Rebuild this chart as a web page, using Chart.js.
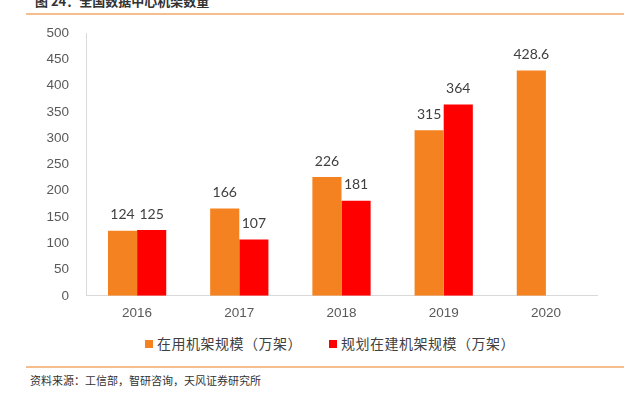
<!DOCTYPE html>
<html>
<head>
<meta charset="utf-8">
<script src="https://cdn.jsdelivr.net/npm/chart.js@4/dist/chart.umd.min.js"></script>
<style>
  body { margin: 0; background: #fff; }
  #wrap { position: relative; width: 642px; height: 394px; overflow: hidden; font-family: "Noto Sans CJK SC", sans-serif; }
  #title { position: absolute; left: 35px; top: -9px; font-size: 13px; font-weight: bold; color: #333; }
  .rule { position: absolute; left: 26px; width: 598px; height: 2px; background: #F6BE8E; }
  #source { position: absolute; left: 30px; top: 372px; font-size: 11px; color: #333; }
  #box { position: absolute; left: 0; top: 0; width: 642px; height: 330px; }
  #legend { position: absolute; left: 145px; top: 333px; font-size: 14px; line-height: 20px; color: #404040; white-space: nowrap; letter-spacing: 0.5px; }
  #legend span.sw { display: inline-block; width: 8px; height: 8px; margin-right: 4px; vertical-align: 1px; }
  #legend span.item { margin-right: 27px; }
</style>
</head>
<body>
<div id="wrap">
  <div id="title">图 24：全国数据中心机架数量</div>
  <div class="rule" style="top:13px"></div>
  <div id="box"><canvas id="rackChart"></canvas></div>
  <div id="legend"></div>
  <div class="rule" style="top:366px"></div>
  <div id="source">资料来源：工信部，智研咨询，天风证券研究所</div>
</div>
<script>
const years = ['2016', '2017', '2018', '2019', '2020'];
const inUse = [124, 166, 226, 315, 428.6];
const planned = [125, 107, 181, 364, null];
const yTicks = [0, 50, 100, 150, 200, 250, 300, 350, 400, 450, 500];
const seriesNames = ['在用机架规模（万架）', '规划在建机架规模（万架）'];
const seriesColors = ['#F58220', '#FF0000'];

// Werte ueber den Balken
const valueLabels = {
    id: 'valueLabels',
    afterDatasetsDraw(chart) {
        const ctx = chart.ctx;
        ctx.save();
        ctx.font = '14px Lato, "Open Sans", sans-serif';
        ctx.fillStyle = '#404040';
        ctx.textAlign = 'center';
        ctx.textBaseline = 'middle';
        chart.data.datasets.forEach((ds, i) => {
            chart.getDatasetMeta(i).data.forEach((bar, j) => {
                if (ds.data[j] == null) return;
                ctx.fillText(String(ds.data[j]), bar.x, bar.y - 16);
            });
        });
        ctx.restore();
    }
};

const ctx = document.getElementById('rackChart').getContext('2d');
const chart = new Chart(ctx, {
    type: 'bar',
    data: {
        labels: years,
        datasets: [inUse, planned].map((d, i) => ({
            label: seriesNames[i],
            data: d,
            backgroundColor: seriesColors[i],
            categoryPercentage: 0.57,
            barPercentage: 1,
        })),
    },
    options: {
        responsive: true,
        maintainAspectRatio: false,
        animation: false,
        layout: { padding: { left: 0, right: 45, top: 33, bottom: 0 } },
        plugins: {
            tooltip: { enabled: false },
            legend: { display: false },
        },
        scales: {
            x: {
                grid: { display: false, drawTicks: false },
                border: { color: '#D9D9D9', width: 1 },
                ticks: { color: '#595959', padding: 9, font: { size: 13.5, family: '"Liberation Sans", Arial, sans-serif' } },
            },
            y: {
                min: 0,
                max: 500,
                afterFit(scale) { scale.width = 86; },
                afterBuildTicks(scale) { scale.ticks = yTicks.map(v => ({ value: v })); },
                grid: { display: false, drawTicks: false },
                border: { color: '#D9D9D9', width: 1 },
                ticks: { color: '#595959', padding: 17, font: { size: 13.5, family: '"Liberation Sans", Arial, sans-serif' } },
            },
        },
    },
    plugins: [valueLabels],
});

// Legende als HTML
document.getElementById('legend').innerHTML = chart.data.datasets.map(ds =>
    '<span class="item"><span class="sw" style="background:' + ds.backgroundColor + '"></span>' + ds.label + '</span>'
).join('');
</script>
</body>
</html>
